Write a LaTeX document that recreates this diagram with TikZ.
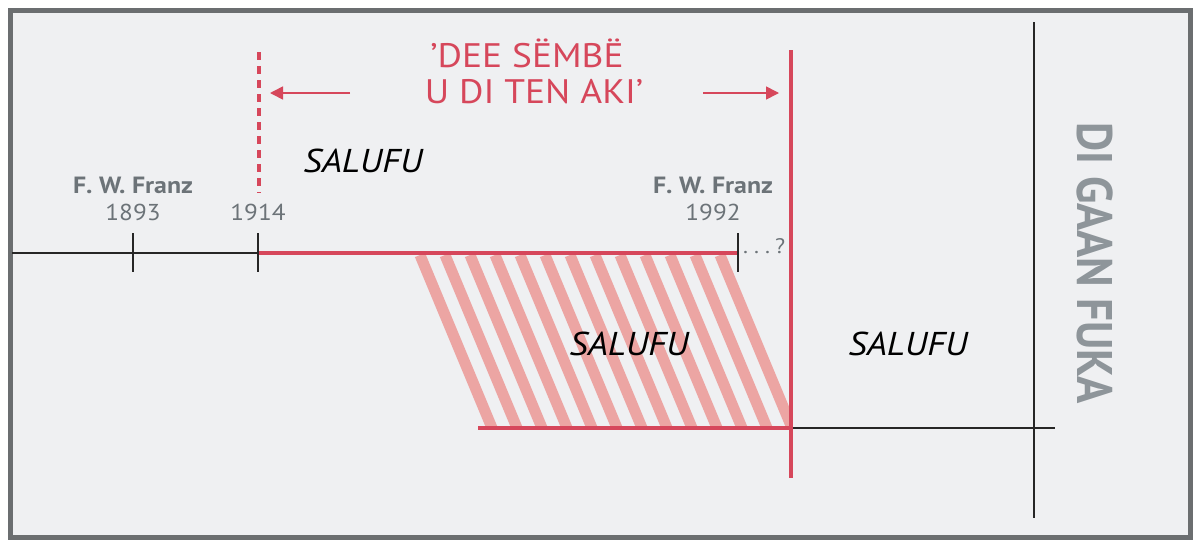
\documentclass[tikz,border=0pt]{standalone}
\usepackage{fontspec}
\setmainfont{PT Sans}[FakeStretch=1.1]
\newfontfamily\narrowfont{PT Sans}[FakeStretch=0.9]
\usetikzlibrary{arrows.meta,positioning}
\definecolor{bgfill}{HTML}{EFF0F2}
\definecolor{framegray}{HTML}{6B6E70}
\definecolor{linered}{HTML}{D6475B}
\definecolor{stripered}{HTML}{ECA5A3}
\definecolor{textgray}{HTML}{6C7378}
\definecolor{sidegray}{HTML}{8E959A}

\begin{document}
\begin{tikzpicture}[x=1pt, y=-1pt,
    frame/.style={draw=framegray, line width=5pt, fill=bgfill},
    redline/.style={draw=linered, line width=4pt},
    blkline/.style={draw=black!85, line width=2.4pt},
    tickline/.style={draw=black!85, line width=2.4pt},
    hatch/.style={draw=stripered, line width=11pt},
    redarr/.style={draw=linered, line width=1.6pt, -{Triangle[length=13pt, width=13pt]}},
    title/.style={text=linered, font=\fontsize{34}{34}\selectfont, anchor=base, inner sep=0pt},
    era/.style={font=\fontsize{33}{33}\selectfont\itshape, anchor=base, inner sep=0pt},
    fwname/.style={text=textgray, font=\fontsize{23.5}{23.5}\selectfont\bfseries, anchor=base, inner sep=0pt},
    year/.style={text=textgray, font=\fontsize{23}{23}\selectfont, anchor=base, inner sep=0pt}
]
\fill[white] (0,0) rectangle (1200,547);
\useasboundingbox (0,0) rectangle (1200,547);
\draw[frame] (10,10) rectangle (1190,537);

% timeline points
\coordinate (left) at (12,253);
\coordinate (t1893) at (133,253);
\coordinate (t1914) at (258,253);
\coordinate (t1992) at (738,253);
\coordinate (endtop) at (791,50);
\coordinate (endbot) at (791,478);
\coordinate (endmid) at (791,428);
\coordinate (hatchbl) at (478,428);
\coordinate (rightend) at (1055,428);
\coordinate (futtop) at (1034,22);
\coordinate (futbot) at (1034,518);
\coordinate (dashtop) at (259,52);
\coordinate (dashbot) at (259,193);

% hatched band
\begin{scope}
  \clip (400,255) rectangle (791,428);
  \foreach \x in {0,...,12}
    \draw[hatch] (420+25*\x,255) -- ++(72,173);
\end{scope}

\draw[blkline] (left) -- (t1914);
\draw[redline] (t1914) -- (t1992);
\draw[redline] (hatchbl) -- (endmid);
\draw[blkline] (endmid) -- (rightend);
\draw[blkline] (futtop) -- (futbot);
\draw[redline] (endtop) -- (endbot);
\draw[draw=linered, line width=4pt, dash pattern=on 8pt off 6pt] (dashtop) -- (dashbot);

\foreach \t in {t1893,t1914,t1992}
  \draw[tickline] ([yshift=20pt]\t) -- ([yshift=-19pt]\t);

% labels
\node[title] (headtop) at (527,67) {’DEE SËMBË};
\node[title] (headbot) at (534,103) {U DI TEN AKI’};
\coordinate (arrlfrom) at (350,93);
\coordinate (arrlto) at (270,93);
\coordinate (arrrfrom) at (703,93);
\coordinate (arrrto) at (779,93);
\draw[redarr] (arrlfrom) -- (arrlto);
\draw[redarr] (arrrfrom) -- (arrrto);

\node[fwname] (fw1893) at (133,193) {F. W. Franz};
\node[year] (y1893) at (133,220) {1893};
\node[year] (y1914) at (258,220) {1914};
\node[fwname] (fw1992) at (713,193) {F. W. Franz};
\node[year] (y1992) at (713,220) {1992};
\node[year, anchor=base west, font=\fontsize{21}{21}\selectfont] (unknown) at (743,253) {.\hspace{6pt}.\hspace{6pt}.\hspace{5pt}?};

\node[era] (era1) at (363,172) {SALUFU};
\node[era] (era2) at (629,355) {SALUFU};
\node[era] (era3) at (908,355) {SALUFU};

\node[text=sidegray, font=\narrowfont\fontsize{50}{50}\selectfont\bfseries, rotate=-90, inner sep=0pt] (future) at (1095,263) {DI GAAN FUKA};
\end{tikzpicture}
\end{document}
